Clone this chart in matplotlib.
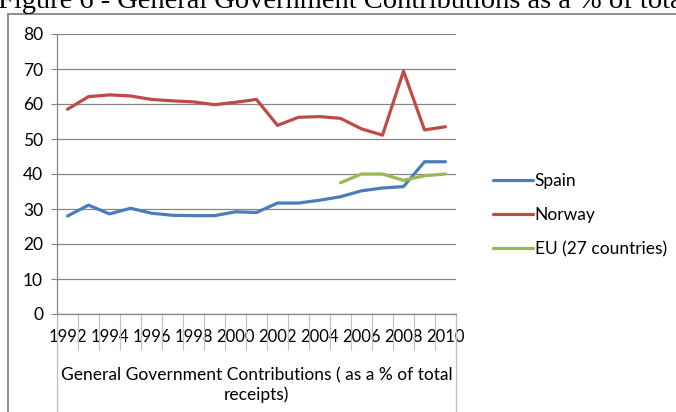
import matplotlib
matplotlib.use("Agg")
import matplotlib.pyplot as plt
from matplotlib.patches import Rectangle
from matplotlib.lines import Line2D
import matplotlib.transforms as mtransforms

# Années et séries (en % des recettes totales)
annees = list(range(1992, 2011))
espagne = [28.0, 31.1, 28.6, 30.2, 28.8, 28.2, 28.1, 28.1, 29.2, 29.0,
           31.7, 31.7, 32.5, 33.5, 35.2, 36.0, 36.4, 43.5, 43.5]
norvege = [58.5, 62.1, 62.6, 62.3, 61.3, 60.9, 60.6, 59.8, 60.5, 61.3,
           53.9, 56.2, 56.4, 55.9, 52.9, 51.1, 69.4, 52.6, 53.5]
annees_ue = list(range(2005, 2011))
ue = [37.5, 40.0, 40.0, 38.2, 39.5, 40.0]
etiquettes_x = [str(a) for a in annees[::2]]
graduations_y = [0, 10, 20, 30, 40, 50, 60, 70, 80]

police = "Lato"
gris = "#868686"

fig = plt.figure(figsize=(6.76, 4.12), dpi=100)

# Titre de la figure, coupé en haut de l'image
fig.text(-0.003, 0.981, "Figure 6 - General Government Contributions as a % of total receipts",
         family="Liberation Serif", fontsize=20.5, va="baseline", ha="left")

# Cadre du graphique
fig.patches.append(Rectangle((8 / 676, -0.1), 1.0, 0.1 + (1 - 14 / 412), transform=fig.transFigure,
                             fill=False, edgecolor=gris, linewidth=1.3))

ax = fig.add_axes([57 / 676, 1 - 314 / 412, 399 / 676, 280 / 412])

idx = list(range(len(annees)))
idx_ue = [annees.index(a) for a in annees_ue]
ax.plot(idx, espagne, color="#4A7EBB", lw=2.3, label="Spain", solid_capstyle="round")
ax.plot(idx, norvege, color="#BE4B48", lw=2.3, label="Norway", solid_capstyle="round")
ax.plot(idx_ue, ue, color="#98B954", lw=2.3, label="EU (27 countries)", solid_capstyle="round")

ax.set_xlim(-0.5, len(annees) - 0.5)
ax.set_ylim(0, 80)
ax.set_yticks(graduations_y)
ax.set_yticklabels([str(v) for v in graduations_y], family=police, fontsize=12.5)
ax.yaxis.grid(True, color=gris, lw=0.9)
ax.set_axisbelow(True)

# Étiquettes des années, une sur deux
ax.set_xticks(idx[::2])
ax.set_xticklabels(etiquettes_x, family=police, fontsize=12)
ax.tick_params(axis="x", which="major", length=0, pad=11)
# Séparateurs entre catégories
ax.set_xticks([i - 0.5 for i in range(1, len(annees))], minor=True)
ax.tick_params(axis="x", which="minor", length=26, width=0.8, color="#BFBFBF", direction="out")
ax.tick_params(axis="y", length=4, width=0.8, color=gris, pad=6)

for s in ["top", "right"]:
    ax.spines[s].set_visible(False)
ax.spines["left"].set_color(gris)
ax.spines["bottom"].set_color(gris)
ax.spines["left"].set_linewidth(0.9)
ax.spines["bottom"].set_linewidth(0.9)

# Bords verticaux de la zone des catégories
trans = mtransforms.blended_transform_factory(ax.transData, ax.transAxes)
for xb in (-0.5, len(annees) - 0.5):
    ax.add_line(Line2D([xb, xb], [0, -100 / 280], transform=trans, color="#BFBFBF",
                       lw=0.9, clip_on=False))

ax.text(0.5, -0.19, "General Government Contributions ( as a % of total\nreceipts)",
        transform=ax.transAxes, ha="center", va="top", family=police, fontsize=12.5,
        linespacing=1.2)

ax.legend(loc="center left", bbox_to_anchor=(493 / 676, 1 - 215 / 412),
          bbox_transform=fig.transFigure, frameon=False, borderpad=0, borderaxespad=0,
          handlelength=2.3, handletextpad=0.1, labelspacing=1.05,
          prop={"family": police, "size": 12.5})

fig.savefig("out.png", dpi=100)
